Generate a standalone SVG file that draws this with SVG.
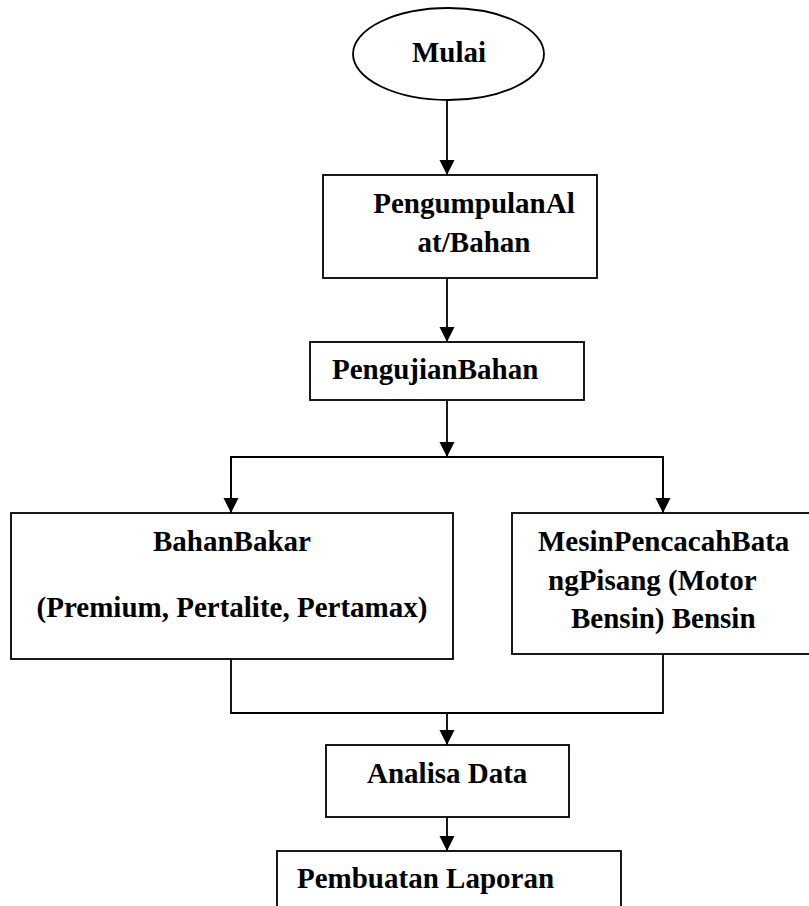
<svg xmlns="http://www.w3.org/2000/svg" width="809" height="906" viewBox="0 0 809 906">
<style>
.s{fill:#fff;stroke:#000;stroke-width:1.8}
.t{font-family:'Liberation Serif','Times New Roman','DejaVu Serif',serif;font-weight:700;font-size:29px;fill:#000}
.c{fill:none;stroke:#000;stroke-width:1.8}
.m{text-anchor:middle}
</style>
<defs>
<marker id="a" markerUnits="userSpaceOnUse" markerWidth="16" markerHeight="16" refX="15" refY="7.5" orient="auto" viewBox="0 0 16 16">
<path d="M0,0 L15,7.5 L0,15 z" fill="#000"/>
</marker>
</defs>
<g id="connectors">
<line class="c" x1="447" y1="100" x2="447" y2="175" marker-end="url(#a)"/>
<line class="c" x1="447" y1="278" x2="447" y2="342" marker-end="url(#a)"/>
<line class="c" x1="447" y1="400" x2="447" y2="457" marker-end="url(#a)"/>
<polyline class="c" points="231,513 231,457 663,457 663,513"/>
<line class="c" x1="231" y1="457" x2="231" y2="513" marker-end="url(#a)"/>
<line class="c" x1="663" y1="457" x2="663" y2="513" marker-end="url(#a)"/>
<polyline class="c" points="231,659 231,713 663,713 663,654"/>
<line class="c" x1="447" y1="713" x2="447" y2="745" marker-end="url(#a)"/>
<line class="c" x1="447" y1="817" x2="447" y2="851" marker-end="url(#a)"/>
</g>
<g id="mulai">
<ellipse class="s" cx="448.5" cy="54" rx="95.5" ry="46"/>
<text class="t" x="412" y="62">Mulai</text>
</g>
<g id="pengumpulan">
<rect class="s" x="323" y="175" width="274" height="103"/>
<text class="t m" x="474" y="213">PengumpulanAl</text>
<text class="t m" x="474" y="252">at/Bahan</text>
</g>
<g id="pengujian">
<rect class="s" x="310" y="342" width="274" height="58"/>
<text class="t" x="332" y="379">PengujianBahan</text>
</g>
<g id="bahanbakar">
<rect class="s" x="11" y="513" width="442" height="146"/>
<text class="t m" x="232" y="551">BahanBakar</text>
<text class="t m" x="232" y="617">(Premium, Pertalite, Pertamax)</text>
</g>
<g id="mesin">
<rect class="s" x="512" y="513" width="310" height="141"/>
<text class="t" x="538" y="551">MesinPencacahBata</text>
<text class="t" x="548" y="590">ngPisang (Motor</text>
<text class="t" x="571" y="628">Bensin) Bensin</text>
</g>
<g id="analisa">
<rect class="s" x="326" y="745" width="243" height="72"/>
<text class="t" x="367" y="783">Analisa Data</text>
</g>
<g id="laporan">
<rect class="s" x="277" y="851" width="344" height="80"/>
<text class="t" x="297" y="888">Pembuatan Laporan</text>
</g>
</svg>
